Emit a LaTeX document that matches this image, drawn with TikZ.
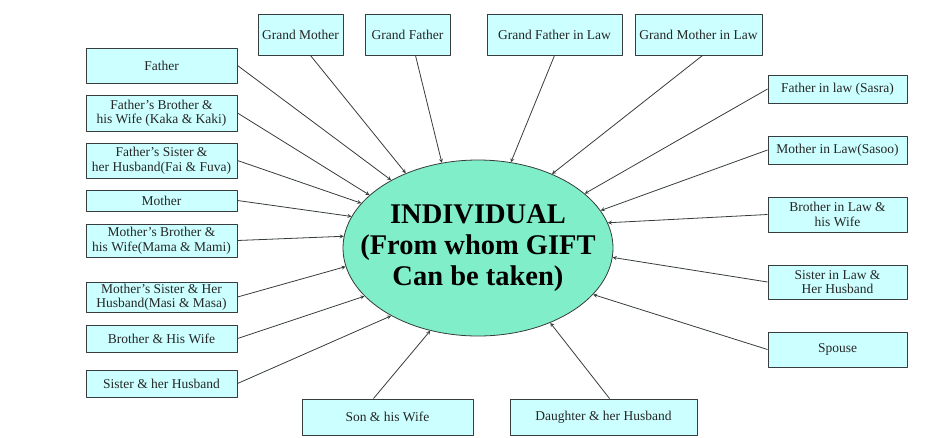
\documentclass[tikz,border=0pt]{standalone}
\usepackage{fontspec}
\setmainfont{Liberation Serif}
\usetikzlibrary{shapes.geometric}
\definecolor{boxfill}{RGB}{204,255,255}
\definecolor{ellfill}{RGB}{128,238,200}
\definecolor{edge}{RGB}{55,60,60}
\begin{document}
\begin{tikzpicture}[x=1pt,y=-1pt,>=stealth,line join=round,
	rel/.style={draw=edge,fill=boxfill,line width=1pt,inner sep=1pt,align=center,
		text=black!85,font=\fontsize{13.5}{14.5}\selectfont},
	link/.style={->,draw=edge,line width=.8pt}]
	\useasboundingbox (0,0) rectangle (944,437);
	% centre
	\node[ellipse,draw=edge,fill=ellfill,line width=.8pt,minimum width=270pt,minimum height=176pt,
		inner sep=0pt,label={[align=center,font=\fontsize{28.5}{31}\selectfont\bfseries]center:INDIVIDUAL\\(From whom GIFT\\Can be taken)}]
		(ind) at (478,248) {};
	% left column
	\node[rel,minimum width=151pt,minimum height=35pt] (fa) at (161.5,65.5) {Father};
	\node[rel,minimum width=151pt,minimum height=36pt] (fbro) at (161.5,113) {Father's Brother \&\\his Wife (Kaka \& Kaki)};
	\node[rel,minimum width=151pt,minimum height=35pt] (fsis) at (161.5,160.5) {Father's Sister \&\\her Husband(Fai \& Fuva)};
	\node[rel,minimum width=151pt,minimum height=21pt] (mo) at (161.5,200.5) {Mother};
	\node[rel,minimum width=151pt,minimum height=33pt] (mbro) at (161.5,240.5) {Mother's Brother \&\\his Wife(Mama \& Mami)};
	\node[rel,minimum width=151pt,minimum height=30pt] (msis) at (161.5,297) {Mother's Sister \& Her\\Husband(Masi \& Masa)};
	\node[rel,minimum width=151pt,minimum height=27pt] (bro) at (161.5,338.5) {Brother \& His Wife};
	\node[rel,minimum width=151pt,minimum height=27pt] (sis) at (161.5,383.5) {Sister \& her Husband};
	% top row
	\node[rel,minimum width=85pt,minimum height=41pt] (gm) at (300.5,34.5) {Grand Mother};
	\node[rel,minimum width=85pt,minimum height=41pt] (gf) at (407.5,34.5) {Grand Father};
	\node[rel,minimum width=135pt,minimum height=41pt] (gfl) at (554.5,34.5) {Grand Father in Law};
	\node[rel,minimum width=127pt,minimum height=41pt] (gml) at (698.5,34.5) {Grand Mother in Law};
	% right column
	\node[rel,minimum width=139pt,minimum height=28pt] (fil) at (837.5,89) {Father in law (Sasra)};
	\node[rel,minimum width=139pt,minimum height=28pt] (mil) at (837.5,150) {Mother in Law(Sasoo)};
	\node[rel,minimum width=139pt,minimum height=35pt] (bil) at (837.5,214.5) {Brother in Law \&\\his Wife};
	\node[rel,minimum width=139pt,minimum height=34pt] (sil) at (837.5,282) {Sister in Law \&\\Her Husband};
	\node[rel,minimum width=139pt,minimum height=35pt] (sp) at (837.5,349.5) {Spouse};
	% bottom row
	\node[rel,minimum width=171pt,minimum height=36pt] (son) at (387.5,417) {Son \& his Wife};
	\node[rel,minimum width=187pt,minimum height=36pt] (dau) at (603.5,417) {Daughter \& her Husband};
	% arrows
	\draw[link] (fa.east) -- (ind.142);
	\draw[link] (fbro.east) -- (ind.154);
	\draw[link] (fsis.east) -- (ind.159);
	\draw[link] (mo.east) -- (ind.166);
	\draw[link] (mbro.east) -- (ind.175);
	\draw[link] (msis.east) -- (ind.188);
	\draw[link] (bro.east) -- (ind.203);
	\draw[link] (sis.east) -- (ind.218);
	\draw[link] ([xshift=10pt]gm.south) -- (ind.134);
	\draw[link] ([xshift=8pt]gf.south) -- (ind.113);
	\draw[link] (gfl.south) -- (ind.69);
	\draw[link] ([xshift=4pt]gml.south) -- (ind.45);
	\draw[link] (fil.west) -- (ind.27);
	\draw[link] (mil.west) -- (ind.17);
	\draw[link] (bil.west) -- (ind.11);
	\draw[link] (sil.west) -- (ind.-4);
	\draw[link] (sp.west) -- (ind.-22);
	\draw[link] ([xshift=-14pt]son.north) -- (ind.240);
	\draw[link] ([xshift=6pt]dau.north) -- (ind.-46);
\end{tikzpicture}
\end{document}
